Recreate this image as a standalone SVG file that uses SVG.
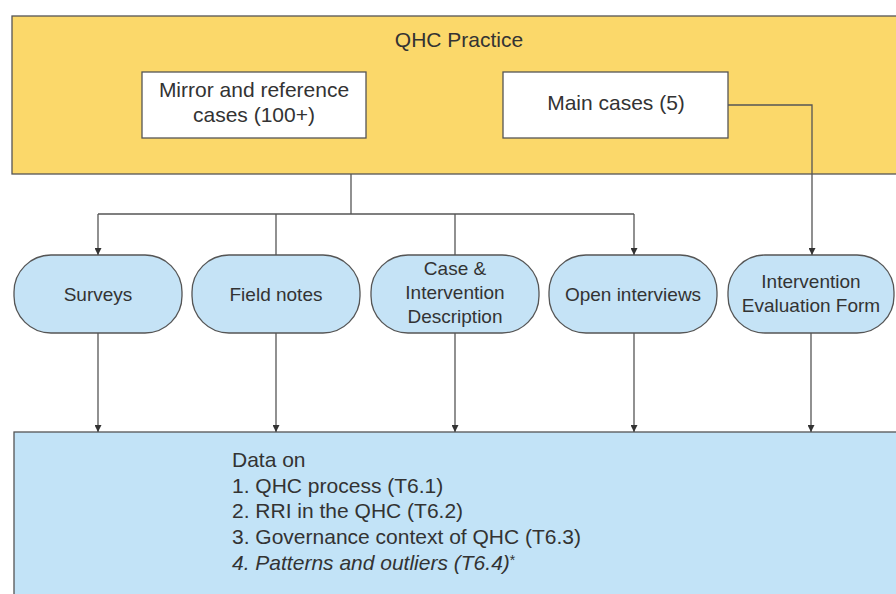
<svg xmlns="http://www.w3.org/2000/svg" width="896" height="594" viewBox="0 0 896 594">
<defs>
<style>
text{font-family:"Liberation Sans",Arial,sans-serif;fill:#333;}
.box{fill:#fff;stroke:#555;stroke-width:1.3;}
.oval{fill:#c5e3f6;stroke:#555;stroke-width:1.3;}
.t21{font-size:21px;text-anchor:middle;}
.t19{font-size:19px;text-anchor:middle;}
.data{font-size:21px;}
.con{fill:none;stroke:#555;stroke-width:1.3;}
</style>
<marker id="ah" viewBox="0 0 10 10" refX="10" refY="5" markerWidth="7" markerHeight="7" markerUnits="userSpaceOnUse" orient="auto">
<path d="M0,0 L10,5 L0,10 z" fill="#333"/>
</marker>
</defs>
<rect width="896" height="594" fill="#fff"/>
<g id="qhc-practice">
<rect x="12" y="16" width="900" height="158" fill="#fbd86a" stroke="#555" stroke-width="1.3"/>
<text class="t21" x="459" y="47">QHC Practice</text>
</g>
<g id="mirror-cases">
<rect class="box" x="142" y="72" width="224" height="66"/>
<text class="t21" x="254" y="97">Mirror and reference</text>
<text class="t21" x="254" y="122">cases (100+)</text>
</g>
<g id="main-cases">
<rect class="box" x="503" y="72" width="225" height="66"/>
<text class="t21" x="616" y="110">Main cases (5)</text>
</g>
<g id="surveys">
<rect class="oval" x="14" y="255" width="168" height="78" rx="37" ry="37"/>
<text class="t19" x="98" y="301">Surveys</text>
</g>
<g id="field-notes">
<rect class="oval" x="192" y="255" width="168" height="78" rx="37" ry="37"/>
<text class="t19" x="276" y="301">Field notes</text>
</g>
<g id="case-description">
<rect class="oval" x="371" y="255" width="168" height="78" rx="37" ry="37"/>
<text class="t19" x="455" y="275">Case &amp;</text>
<text class="t19" x="455" y="299">Intervention</text>
<text class="t19" x="455" y="323">Description</text>
</g>
<g id="open-interviews">
<rect class="oval" x="549" y="255" width="168" height="78" rx="37" ry="37"/>
<text class="t19" x="633" y="301">Open interviews</text>
</g>
<g id="evaluation-form">
<rect class="oval" x="728" y="255" width="166" height="78" rx="37" ry="37"/>
<text class="t19" x="811" y="288">Intervention</text>
<text class="t19" x="811" y="312">Evaluation Form</text>
</g>
<g id="data">
<rect x="14" y="432" width="900" height="200" fill="#c2e3f7" stroke="#555" stroke-width="1.3"/>
<text class="data" x="232" y="467">Data on</text>
<text class="data" x="232" y="493">1. QHC process (T6.1)</text>
<text class="data" x="232" y="518">2. RRI in the QHC (T6.2)</text>
<text class="data" x="232" y="544">3. Governance context of QHC (T6.3)</text>
<text class="data" x="232" y="570"><tspan font-style="italic">4. Patterns and outliers (T6.4)</tspan><tspan font-size="14" dy="-5">*</tspan></text>
</g>
<g id="connectors">
<path class="con" d="M351,174 V214"/>
<path class="con" d="M98,214 H634"/>
<path class="con" d="M98,214 V255" marker-end="url(#ah)"/>
<path class="con" d="M276,214 V255"/>
<path class="con" d="M455,214 V255"/>
<path class="con" d="M634,214 V255" marker-end="url(#ah)"/>
<path class="con" d="M728,105 H812 V255" marker-end="url(#ah)"/>
<path class="con" d="M98,333 V432" marker-end="url(#ah)"/>
<path class="con" d="M276,333 V432" marker-end="url(#ah)"/>
<path class="con" d="M455,333 V432" marker-end="url(#ah)"/>
<path class="con" d="M634,333 V432" marker-end="url(#ah)"/>
<path class="con" d="M811,333 V432" marker-end="url(#ah)"/>
</g>
</svg>
